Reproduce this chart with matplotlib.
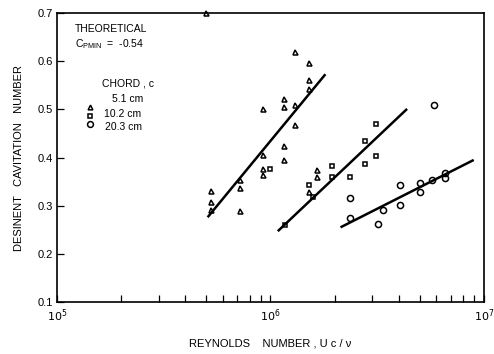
import matplotlib
matplotlib.use("Agg")
import matplotlib.pyplot as plt
import numpy as np

plt.rcParams['font.family'] = ['Liberation Sans', 'DejaVu Sans']

# Data: chord 5.1 cm (triangles)
re_51 = [5.0e5, 1.31e6, 1.51e6, 1.51e6, 1.51e6, 1.155e6, 1.155e6, 9.2e5, 1.31e6, 1.31e6,
         1.155e6, 1.155e6, 9.2e5, 9.2e5, 9.2e5, 7.23e5, 7.23e5, 7.23e5, 5.27e5, 5.27e5,
         5.27e5, 1.51e6, 1.66e6, 1.66e6]
sig_51 = [0.70, 0.619, 0.597, 0.560, 0.542, 0.522, 0.504, 0.500, 0.510, 0.468,
          0.424, 0.395, 0.405, 0.377, 0.363, 0.353, 0.337, 0.288, 0.331, 0.307,
          0.291, 0.328, 0.375, 0.359]
# chord 10.2 cm (squares)
re_102 = [9.97e5, 1.52e6, 1.58e6, 1.175e6, 1.94e6, 1.94e6, 2.37e6, 2.77e6, 2.77e6, 3.13e6, 3.13e6]
sig_102 = [0.377, 0.343, 0.318, 0.260, 0.383, 0.359, 0.359, 0.434, 0.386, 0.469, 0.404]
# chord 20.3 cm (circles)
re_203 = [5.85e6, 2.37e6, 2.37e6, 3.18e6, 3.36e6, 4.03e6, 4.03e6, 5.01e6, 5.01e6, 5.74e6, 6.56e6, 6.56e6]
sig_203 = [0.510, 0.316, 0.274, 0.262, 0.290, 0.343, 0.301, 0.348, 0.328, 0.354, 0.367, 0.357]

# fitted lines (end points)
fit_51_x = [5.08e5, 1.81e6]
fit_51_y = [0.276, 0.573]
fit_102_x = [1.083e6, 4.37e6]
fit_102_y = [0.247, 0.501]
fit_203_x = [2.13e6, 8.97e6]
fit_203_y = [0.255, 0.395]

y_ticks = [0.1, 0.2, 0.3, 0.4, 0.5, 0.6, 0.7]
x_ticks = [1e5, 1e6, 1e7]
x_ticklabels = [r'$10^5$', r'$10^6$', r'$10^7$']

fig = plt.figure(figsize=(4.94, 3.54), dpi=100)
ax = fig.add_axes([0.1154, 0.147, 0.864, 0.816])

mk = dict(linestyle='none', markerfacecolor='none', markeredgecolor='black', markeredgewidth=1.1, clip_on=False)
ax.plot(re_51, sig_51, marker='^', markersize=3.6, **mk)
ax.plot(re_102, sig_102, marker='s', markersize=3.4, **mk)
ax.plot(re_203, sig_203, marker='o', markersize=4.4, **mk)

for fx, fy in [(fit_51_x, fit_51_y), (fit_102_x, fit_102_y), (fit_203_x, fit_203_y)]:
    ax.plot(fx, fy, color='black', linewidth=1.8, solid_capstyle='butt')

ax.set_xscale('log')
ax.set_xlim(1e5, 1e7)
ax.set_ylim(0.1, 0.7)
ax.set_yticks(y_ticks)
ax.set_yticklabels([f'{v:.1f}' for v in y_ticks], fontsize=8)
ax.set_xticks(x_ticks)
ax.set_xticklabels(x_ticklabels, fontsize=8)
ax.tick_params(axis='both', which='both', direction='in', length=5, width=0.9, top=False, right=False)
ax.tick_params(axis='y', pad=3)
ax.tick_params(axis='x', pad=4)
for s in ax.spines.values():
    s.set_linewidth(1.2)

ax.set_ylabel('DESINENT   CAVITATION   NUMBER', fontsize=8, labelpad=10)
ax.set_xlabel('REYNOLDS    NUMBER , U c / ν', fontsize=8, labelpad=10)

# annotations
ax.text(0.042, 0.944, 'THEORETICAL', transform=ax.transAxes, fontsize=7.5, va='center', ha='left')
ax.text(0.042, 0.892, r'C$_{\mathregular{PMIN}}$  =  -0.54', transform=ax.transAxes, fontsize=7.5, va='center', ha='left')
ax.text(0.105, 0.758, 'CHORD , c', transform=ax.transAxes, fontsize=7.5, va='center', ha='left')
leg_my = [0.675, 0.644, 0.616]
leg_ty = [0.703, 0.651, 0.606]
leg_m = ['^', 's', 'o']
leg_t = ['5.1 cm', '10.2 cm', '20.3 cm']
leg_tx = [0.129, 0.110, 0.113]
leg_ms = [3.4, 3.2, 4.2]
for my, ty, m, t, tx, ms in zip(leg_my, leg_ty, leg_m, leg_t, leg_tx, leg_ms):
    ax.plot([0.077], [my], marker=m, markersize=ms, transform=ax.transAxes, **mk)
    ax.text(tx, ty, t, transform=ax.transAxes, fontsize=7.5, va='center', ha='left')

fig.savefig('out.png', dpi=100)
